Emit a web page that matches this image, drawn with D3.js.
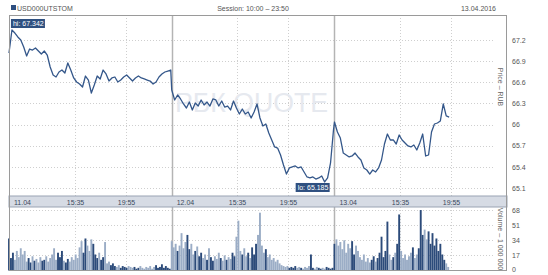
<!DOCTYPE html>
<html>
<head>
<meta charset="utf-8">
<script src="https://cdn.jsdelivr.net/npm/d3@7"></script>
<style>
body { margin: 0; background: #fff; }
text { font-family: "Liberation Sans", Arial, sans-serif; }
</style>
</head>
<body>
<div id="vis"></div>
<script>
// session 10:00 - 23:50, 830 minutes per day
var days = ['11.04', '12.04', '13.04'];
var timeTicks = ['15:35', '19:55'];
var priceTicks = [65.1, 65.4, 65.7, 66, 66.3, 66.6, 66.9, 67.2];
var volTicks = [0, 17, 34, 51, 68];

// price every 15 minutes from 10:00
var day1Price = [67.016, 67.342, 67.299, 67.243, 67.200, 67.101, 66.973, 67.072, 67.058, 67.086,
    67.044, 67.001, 67.044, 66.987, 66.817, 66.703, 66.675, 66.746, 66.774, 66.732,
    66.874, 66.774, 66.661, 66.604, 66.576, 66.533, 66.689, 66.632, 66.448, 66.561,
    66.689, 66.647, 66.774, 66.718, 66.618, 66.661, 66.675, 66.604, 66.632, 66.675,
    66.703, 66.661, 66.618, 66.661, 66.689, 66.661, 66.647, 66.632, 66.618, 66.576,
    66.604, 66.675, 66.718, 66.746, 66.760, 66.774];
var day2Price = [66.490, 66.349, 66.420, 66.363, 66.292, 66.235, 66.320, 66.207, 66.306, 66.263,
    66.349, 66.278, 66.320, 66.263, 66.363, 66.349, 66.263, 66.334, 66.249, 66.263,
    66.207, 66.334, 66.235, 66.150, 66.221, 66.150, 66.178, 66.093, 66.178, 66.292,
    66.093, 65.980, 66.008, 65.880, 65.781, 65.682, 65.667, 65.568, 65.426, 65.298,
    65.384, 65.398, 65.412, 65.384, 65.398, 65.327, 65.256, 65.242, 65.256, 65.227,
    65.242, 65.270, 65.185, 65.242, 65.455, 65.923];
var day3Price = [66.036, 65.894, 65.809, 65.596, 65.568, 65.540, 65.554, 65.596, 65.540, 65.497,
    65.384, 65.355, 65.298, 65.355, 65.327, 65.384, 65.497, 65.724, 65.866, 65.781,
    65.781, 65.724, 65.852, 65.781, 65.738, 65.696, 65.682, 65.710, 65.639, 65.738,
    65.866, 65.554, 65.568, 65.894, 66.008, 66.022, 66.051, 66.292, 66.122, 66.107];

// volume (x 1 000 000) every 10 minutes
var day1Vol = [36, 14, 20, 12, 22, 15, 25, 18, 22, 10,
    14, 9, 16, 11, 13, 9, 15, 11, 12, 16,
    10, 14, 18, 25, 12, 20, 15, 22, 11, 9,
    13, 10, 15, 12, 18, 14, 26, 33, 20, 36,
    28, 22, 35, 30, 18, 14, 20, 12, 15, 32,
    8, 10, 6, 8, 5, 4, 6, 3, 5, 4,
    3, 5, 4, 3, 4, 2, 3, 5, 3, 2,
    4, 3, 5, 2, 4, 6, 3, 4, 7, 3,
    5, 3, 2];
var day2Vol = [33, 26, 30, 22, 28, 42, 25, 32, 40, 24,
    30, 18, 22, 27, 16, 20, 14, 18, 12, 25,
    15, 11, 16, 13, 20, 14, 11, 17, 12, 15,
    13, 20, 16, 38, 56, 22, 18, 25, 16, 20,
    14, 26, 18, 30, 40, 65, 28, 20, 24, 15,
    18, 12, 14, 10, 12, 8, 6, 5, 4, 5,
    3, 4, 3, 5, 3, 4, 3, 2, 4, 3,
    5, 18, 3, 2, 4, 3, 2, 3, 2, 4,
    3, 2, 3];
var day3Vol = [30, 35, 28, 32, 24, 34, 20, 30, 25, 33,
    18, 28, 22, 15, 12, 18, 10, 14, 9, 12,
    16, 10, 14, 20, 38, 15, 22, 55, 18, 12,
    15, 20, 30, 63, 22, 14, 18, 12, 16, 20,
    26, 14, 18, 25, 68, 40, 46, 35, 44, 30,
    42, 28, 36, 22, 30, 18, 12, 8, 4];

var DAY = 830, PSTEP = 15, VSTEP = 10;

var svg = d3.select('#vis')
    .append('svg')
    .attr('width', 548)
    .attr('height', 275);

var left = 9, right = 507, gridRight = 495;
var pTop = 15, pBottom = 196, bandBottom = 207, vBottom = 271;

var x = d3.scaleLinear().domain([0, 3 * DAY + 50]).range([left, right]);
var y = d3.scaleLinear().domain([64.986, 67.555]).range([pBottom, pTop]);
var vy = d3.scaleLinear().domain([0, 71.4]).range([270.5, bandBottom]);

function minutes(s) {
    var p = s.split(':');
    return (+p[0] - 10) * 60 + (+p[1]);
}

var prices = [];
[day1Price, day2Price, day3Price].forEach(function(arr, d) {
    arr.forEach(function(p, i) { prices.push({ t: d * DAY + i * PSTEP, p: p }); });
});
var vols = [];
[day1Vol, day2Vol, day3Vol].forEach(function(arr, d) {
    arr.forEach(function(v, i) { vols.push({ t: d * DAY + i * VSTEP, v: v }); });
});

var bis = d3.bisector(function(d) { return d.t; }).left;
function priceAt(t) {
    var i = bis(prices, t);
    if (i <= 0) return prices[0].p;
    if (i >= prices.length) return prices[prices.length - 1].p;
    var a = prices[i - 1], b = prices[i];
    return a.p + (b.p - a.p) * (t - a.t) / (b.t - a.t);
}

// header
svg.append('rect').attr('x', 11).attr('y', 5).attr('width', 5).attr('height', 5).attr('fill', '#2e4f80');
var head = svg.append('g').style('font-size', '7px').attr('fill', '#555');
head.append('text').attr('x', 17).attr('y', 11).text('USD000UTSTOM');
head.append('text').attr('x', 253).attr('y', 11).attr('text-anchor', 'middle').text('Session: 10:00 \u2013 23:50');
head.append('text').attr('x', 496).attr('y', 11).attr('text-anchor', 'end').text('13.04.2016');

// grid
var grid = svg.append('g').attr('stroke', '#cfcfcf').attr('stroke-dasharray', '1,2');
grid.selectAll('.hp').data(priceTicks).enter().append('line')
    .attr('x1', left).attr('x2', gridRight)
    .attr('y1', function(d) { return Math.round(y(d)) + 0.5; })
    .attr('y2', function(d) { return Math.round(y(d)) + 0.5; });
grid.selectAll('.hv').data(volTicks.slice(1)).enter().append('line')
    .attr('x1', left).attr('x2', gridRight)
    .attr('y1', function(d) { return Math.round(vy(d)) + 0.5; })
    .attr('y2', function(d) { return Math.round(vy(d)) + 0.5; });

var tickPos = [];
days.forEach(function(dd, d) {
    timeTicks.forEach(function(tt) { tickPos.push({ label: tt, x: Math.round(x(d * DAY + minutes(tt))) + 0.5 }); });
});
tickPos.forEach(function(t) {
    grid.append('line').attr('x1', t.x).attr('x2', t.x).attr('y1', pTop).attr('y2', pBottom);
    grid.append('line').attr('x1', t.x).attr('x2', t.x).attr('y1', bandBottom).attr('y2', vBottom);
});

// watermark
svg.append('text')
    .attr('x', 175).attr('y', 112)
    .attr('textLength', 153).attr('lengthAdjust', 'spacingAndGlyphs')
    .style('font-size', '27px')
    .attr('fill', '#e6e9ef')
    .text('\u0420\u0411\u041a QUOTE');

// day separators
[1, 2].forEach(function(d) {
    var sx = Math.round(x(d * DAY)) + 0.5;
    svg.append('line').attr('x1', sx).attr('x2', sx).attr('y1', pTop).attr('y2', pBottom)
        .attr('stroke', '#b4b4b4').attr('stroke-width', 1.5);
    svg.append('line').attr('x1', sx).attr('x2', sx).attr('y1', bandBottom).attr('y2', vBottom)
        .attr('stroke', '#b4b4b4').attr('stroke-width', 1.5);
});

// volume bars
svg.append('g').selectAll('rect').data(vols).enter().append('rect')
    .attr('x', function(d) { return x(d.t) - 0.95; })
    .attr('width', 1.9)
    .attr('y', function(d) { return vy(d.v); })
    .attr('height', function(d) { return vy(0) - vy(d.v); })
    .attr('fill', function(d) {
        return priceAt(d.t) >= priceAt(d.t - VSTEP) ? '#2c4b7a' : '#9badc6';
    });

// price line
var line = d3.line()
    .x(function(d) { return x(d.t); })
    .y(function(d) { return y(d.p); });
svg.append('path').datum(prices)
    .attr('d', line)
    .attr('fill', 'none')
    .attr('stroke', '#34578a')
    .attr('stroke-width', 1.3)
    .attr('stroke-linejoin', 'round');

// band with time labels
svg.append('rect').attr('x', left).attr('y', pBottom).attr('width', right - left).attr('height', bandBottom - pBottom)
    .attr('fill', '#d6dbe4').attr('stroke', '#9aa3b3').attr('stroke-width', 1);
var band = svg.append('g').style('font-size', '7px').attr('fill', '#3b4a5e');
days.forEach(function(dd, d) {
    band.append('text').attr('x', x(d * DAY) + 5).attr('y', 204.5).text(dd);
});
tickPos.forEach(function(t) {
    band.append('text').attr('x', t.x).attr('y', 204.5).attr('text-anchor', 'middle').text(t.label);
});

// frame
svg.append('rect').attr('x', left + 0.5).attr('y', pTop + 0.5).attr('width', right - left - 1).attr('height', vBottom - pTop - 1)
    .attr('fill', 'none').attr('stroke', '#9a9a9a');

// right axes
var yAxis = d3.axisRight(y).tickValues(priceTicks).tickSize(0).tickPadding(0).tickFormat(d3.format(''));
var ga = svg.append('g').attr('transform', 'translate(512,0)').call(yAxis);
var vAxis = d3.axisRight(vy).tickValues(volTicks).tickSize(0).tickPadding(0).tickFormat(d3.format('d'));
var gv = svg.append('g').attr('transform', 'translate(512,0)').call(vAxis);
[ga, gv].forEach(function(g) {
    g.select('.domain').remove();
    g.selectAll('text').style('font-size', '7px').style('font-family', '"Liberation Sans", Arial, sans-serif').attr('fill', '#555');
});
gv.selectAll('.tick').filter(function(d) { return d === 0; }).select('text').attr('dy', '0.1em');

svg.append('text').attr('transform', 'translate(498,87) rotate(90)')
    .attr('text-anchor', 'middle').style('font-size', '7px').attr('fill', '#666')
    .text('Price \u2013 RUB');
svg.append('text').attr('transform', 'translate(498,239) rotate(90)')
    .attr('text-anchor', 'middle').style('font-size', '7px').attr('fill', '#666')
    .text('Volume \u2013 1 000 000');

// hi / lo labels
var hi = d3.greatest(prices, function(d) { return d.p; });
var lo = d3.least(prices, function(d) { return d.p; });
var fmt = d3.format('.3f');
function tag(px, py, label) {
    var g = svg.append('g');
    g.append('rect').attr('x', px).attr('y', py).attr('width', 34).attr('height', 9).attr('fill', '#2f5080');
    g.append('text').attr('x', px + 2).attr('y', py + 7).style('font-size', '7px').attr('fill', '#fff').text(label);
}
tag(x(hi.t) - 1, y(hi.p) - 11, 'hi: ' + fmt(hi.p));
tag(x(lo.t) - 29, y(lo.p) + 1, 'lo: ' + fmt(lo.p));
</script>
</body>
</html>
